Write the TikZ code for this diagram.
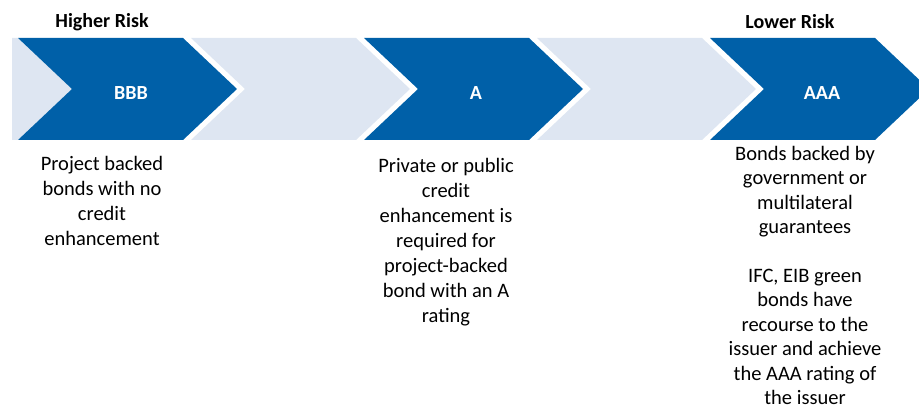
\documentclass[tikz,border=0pt]{standalone}
\usepackage{fontspec}
\setmainfont{Carlito}
\usepackage{xcolor}
\usepackage{tikz}
\definecolor{darkband}{RGB}{0,96,168}
\definecolor{lightband}{RGB}{222,230,242}

\begin{document}
\begin{tikzpicture}[x=1pt,y=-1pt,
    rating/.style={text=white,font=\fontsize{20}{24}\selectfont\bfseries},
    riskhead/.style={font=\fontsize{20}{24}\selectfont\bfseries},
    note/.style={anchor=north,align=center,inner sep=0pt,font=\fontsize{20.5}{25}\selectfont}]
    \useasboundingbox (0,0) rectangle (919,414);
      % the band of chevrons
    \fill[lightband] (12,38) -- (18,38) -- (72,89) -- (18,140) -- (12,140) -- cycle;
    \foreach \L/\c in {18/darkband,191/lightband,364/darkband,537/lightband,710/darkband}
      \fill[\c] (\L,38) -- ++(165,0) -- ++(54,51) -- ++(-54,51) -- ++(-165,0) -- ++(54,-51) -- cycle;
      % risk ends
    \node[riskhead] (hi) at (102,22) {Higher Risk};
    \node[riskhead] (lo) at (790,22) {Lower Risk};
      % ratings
    \node[rating] (bbb) at (131,93) {BBB};
    \node[rating] (a) at (476,93) {A};
    \node[rating] (aaa) at (822,93) {AAA};
      % notes below
    \node[note] (bbbnote) at (102,156) {Project backed\\bonds with no\\credit\\enhancement};
    \node[note] (anote) at (446,158) {Private or public\\credit\\enhancement is\\required for\\project-backed\\bond with an A\\rating};
    \node[note,font=\fontsize{20.5}{24.4}\selectfont] (aaanote) at (805,146) {Bonds backed by\\government or\\multilateral\\guarantees\\[24.4pt]IFC, EIB green\\bonds have\\recourse to the\\issuer and achieve\\the AAA rating of\\the issuer};
\end{tikzpicture}
\end{document}
